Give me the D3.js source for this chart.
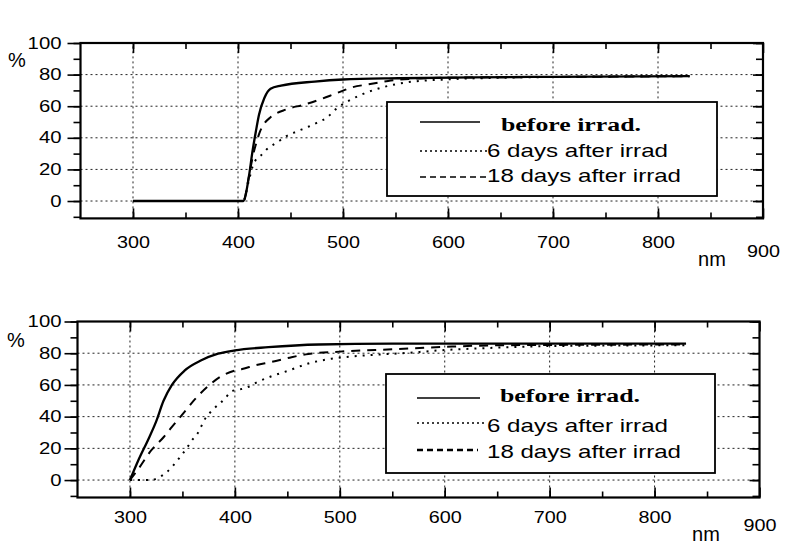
<!DOCTYPE html>
<html>
<head>
<meta charset="utf-8">
<script src="https://cdn.jsdelivr.net/npm/d3@7"></script>
<style>
  body { margin: 0; background: #fff; }
  svg { display: block; }
  text { font-family: "Liberation Sans", Arial, sans-serif; fill: #000; }
</style>
</head>
<body>
<div id="chart"></div>
<script>
// Values: [wavelength nm, transmission %]
const topBefore = [[300,0],[380,0],[405,0],[410.5,16],[413.7,31],[417,44],[420,54.6],[425,65],[431,71],[441,73],[473,75.6],[500,76.9],[553,77.7],[623,78.3],[700,78.6],[830,79]];
const topSixDays = [[300,0],[380,0],[405,0],[410,12],[414,22],[418,27],[422,29],[427,32.5],[437,37],[446,41],[456,44],[467,47],[475,49.5],[485,53],[493,58],[510,65],[520,68],[538,72],[560,75],[600,77],[650,78],[700,78.5],[830,79]];
const topEighteenDays = [[300,0],[380,0],[405,0],[410,14],[414,28],[418,38],[421,44],[425,49],[431,53],[446,58],[463,61],[477,64],[493,68],[509,72],[526,74],[543,76],[570,77.5],[600,78],[700,78.5],[830,79]];

const bottomBefore = [[300,0],[308,12.5],[317,25],[325,37],[332,50],[340,60],[352,69],[368,75.5],[384,79.7],[400,81.8],[432,83.8],[480,85.5],[550,86],[830,86]];
const bottomSixDays = [[300,0],[320,0],[327,1.5],[335,5],[348,14.7],[354,20],[359,25],[365,30],[371,38],[380,45],[390,51],[397,56],[403,57],[410,58],[422,62],[435,65.5],[451,69],[470,73.5],[492,76.5],[524,78.6],[560,80],[600,82],[650,83.5],[700,84.5],[830,85]];
const bottomEighteenDays = [[300,0],[308,7],[320,18.5],[332,27],[340,33.5],[352,43],[362,51],[375,59.5],[387,65.5],[400,69],[407,70],[420,72.5],[435,74.5],[454,77.5],[470,79.5],[500,81],[550,82.5],[600,84],[650,85],[830,85.5]];

const seriesNames = ["before irrad.", "6 days after irrad", "18 days after irrad"];
const xTickLabels = [300, 400, 500, 600, 700, 800, 900];
const xGrid = [300, 400, 500, 600, 700, 800];
const xMinorTicks = [300, 350, 400, 450, 500, 550, 600, 650, 700, 750, 800, 850];
const yTickLabels = [0, 20, 40, 60, 80, 100];
const yGrid = [0, 20, 40, 60, 80];
const yMinorTicks = [-10, 0, 10, 20, 30, 40, 50, 60, 70, 80, 90, 100];

const width = 790, height = 545;

const svg = d3.select("#chart").append("svg")
    .attr("width", width)
    .attr("height", height);

const styles = [
    { dash: null, w: 2.3 },
    { dash: "2,6", w: 2 },
    { dash: "9,7", w: 2 }
];

function drawPanel(p, curves) {
    const x = d3.scaleLinear().domain([250, 900]).range([p.x0, p.x1]);
    const y = d3.scaleLinear().domain([-11, 100]).range([p.y0, p.y1]);
    const g = svg.append("g");

    // dotted grid
    g.selectAll(".vgrid").data(xGrid).join("line")
        .attr("x1", d => x(d)).attr("x2", d => x(d))
        .attr("y1", y(-11)).attr("y2", y(100))
        .attr("stroke", "#222").attr("stroke-width", 1).attr("stroke-dasharray", "2,3");
    g.selectAll(".hgrid").data(yGrid).join("line")
        .attr("x1", x(250)).attr("x2", x(900))
        .attr("y1", d => y(d)).attr("y2", d => y(d))
        .attr("stroke", "#222").attr("stroke-width", 1).attr("stroke-dasharray", "2,3");

    // curves
    const line = d3.line().x(d => x(d[0])).y(d => y(d[1])).curve(d3.curveMonotoneX);
    curves.forEach((c, i) => {
        g.append("path").datum(c)
            .attr("d", line)
            .attr("fill", "none")
            .attr("stroke", "#000")
            .attr("stroke-width", styles[i].w)
            .attr("stroke-dasharray", styles[i].dash);
    });

    // legend
    const L = p.legend;
    g.append("rect")
        .attr("x", L.x).attr("y", L.y).attr("width", L.w).attr("height", L.h)
        .attr("fill", "#fff").attr("stroke", "#000").attr("stroke-width", 1.8);
    seriesNames.forEach((name, i) => {
        g.append("line")
            .attr("x1", L.sx0).attr("x2", L.sx1[i])
            .attr("y1", L.y + L.sampleY[i]).attr("y2", L.y + L.sampleY[i])
            .attr("stroke", "#000").attr("stroke-width", i === 2 ? L.dashW : 1.5)
            .attr("stroke-dasharray", i === 0 ? null : (i === 1 ? "2,3" : "6,4"));
        const t = g.append("text")
            .attr("x", i === 0 ? L.tx0 : L.tx)
            .attr("y", L.y + L.textY[i])
            .attr("font-size", 18.5)
            .attr("textLength", [140, 181, 194][i])
            .attr("lengthAdjust", "spacingAndGlyphs")
            .text(name);
        if (i === 0) t.style("font-family", '"Liberation Serif", "Times New Roman", serif').attr("font-weight", "bold");
    });

    // axes
    function clean(sel) { sel.select(".domain").remove(); sel.selectAll("line").attr("stroke-width", 1.6); }

    g.append("g").attr("transform", `translate(${x(250)},0)`)
        .call(d3.axisLeft(y).tickValues(yMinorTicks).tickSize(7).tickSizeOuter(0).tickFormat(""))
        .call(clean);
    const yl = g.append("g").attr("transform", `translate(${x(250)},0)`)
        .call(d3.axisLeft(y).tickValues(yTickLabels).tickSize(13).tickSizeOuter(0).tickPadding(p.yPad))
        .call(clean);
    yl.selectAll("text")
        .attr("font-size", 16)
        .attr("textLength", d => String(d).length * 11.3)
        .attr("lengthAdjust", "spacingAndGlyphs");

    g.append("g").attr("transform", `translate(${x(900)},0)`)
        .call(d3.axisRight(y).tickValues(yMinorTicks).tickSize(-7).tickSizeOuter(0).tickFormat(""))
        .call(clean);
    g.append("g").attr("transform", `translate(${x(900)},0)`)
        .call(d3.axisRight(y).tickValues(yTickLabels).tickSize(-10).tickSizeOuter(0).tickFormat(""))
        .call(clean);

    g.append("g").attr("transform", `translate(0,${y(100)})`)
        .call(d3.axisTop(x).tickValues(xMinorTicks).tickSize(-6).tickSizeOuter(0).tickFormat(""))
        .call(clean);
    g.append("g").attr("transform", `translate(0,${y(100)})`)
        .call(d3.axisTop(x).tickValues(xTickLabels).tickSize(-10).tickSizeOuter(0).tickFormat(""))
        .call(clean);

    g.append("g").attr("transform", `translate(0,${y(-11)})`)
        .call(d3.axisBottom(x).tickValues(xMinorTicks).tickSize(-6).tickSizeOuter(0).tickFormat(""))
        .call(clean);
    const xl = g.append("g").attr("transform", `translate(0,${y(-11)})`)
        .call(d3.axisBottom(x).tickValues(xTickLabels).tickSize(-10).tickSizeOuter(0).tickPadding(p.xPad))
        .call(clean);
    xl.selectAll("text")
        .attr("font-size", 17)
        .attr("textLength", d => String(d).length * 11)
        .attr("lengthAdjust", "spacingAndGlyphs")
        .attr("dy", d => d === 900 ? "1.2em" : "0.71em");

    // frame
    g.append("rect")
        .attr("x", x(250)).attr("y", y(100))
        .attr("width", x(900) - x(250)).attr("height", y(-11) - y(100))
        .attr("fill", "none").attr("stroke", "#000").attr("stroke-width", 2.2);

    g.append("text").attr("x", p.pctX).attr("y", p.pctY)
        .attr("text-anchor", "middle").attr("font-size", 20).text("%");
    g.append("text").attr("x", p.nmX).attr("y", p.nmY)
        .attr("text-anchor", "middle").attr("font-size", 20).text("nm");
}

drawPanel({
    x0: 80.5, x1: 763, y0: 218.4, y1: 43, yPad: 6, xPad: 18,
    pctX: 17, pctY: 67, nmX: 712, nmY: 266,
    legend: { x: 387, y: 102, w: 330, h: 94, sx0: 420, sx1: [480, 487, 487], dashW: 1.5,
              sampleY: [20, 49, 75], textY: [29, 55, 80], tx0: 501, tx: 487 }
}, [topBefore, topSixDays, topEighteenDays]);

drawPanel({
    x0: 77.5, x1: 759.5, y0: 497.5, y1: 321.5, yPad: 3, xPad: 13,
    pctX: 16, pctY: 347, nmX: 706, nmY: 541,
    legend: { x: 386, y: 374, w: 329, h: 99, sx0: 417, sx1: [480, 487, 478], dashW: 2.5,
              sampleY: [24, 49, 76], textY: [28, 58, 84], tx0: 500, tx: 487 }
}, [bottomBefore, bottomSixDays, bottomEighteenDays]);
</script>
</body>
</html>
